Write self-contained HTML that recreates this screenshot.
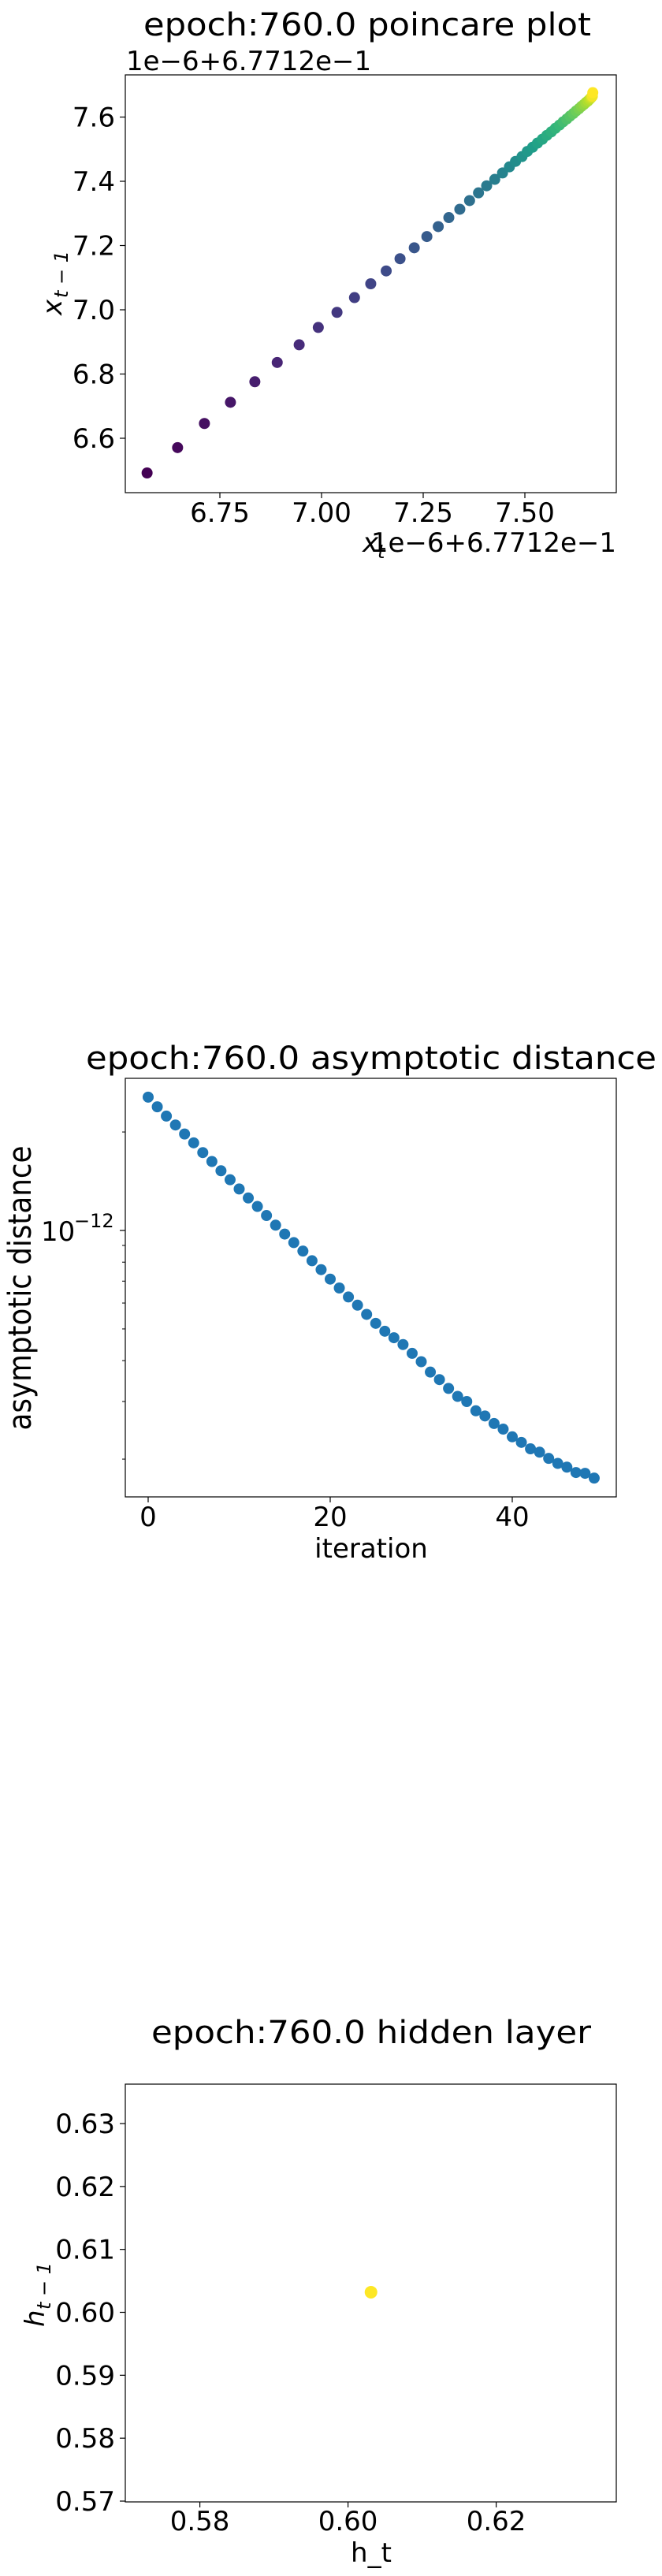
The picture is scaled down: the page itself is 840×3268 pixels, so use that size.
<!DOCTYPE html>
<html><head><meta charset="utf-8"><style>
html,body{margin:0;padding:0;background:#fff;}
svg{display:block;}
text{font-family:"DejaVu Sans","Liberation Sans",sans-serif;fill:#000;}
</style></head><body>
<svg id="fig" width="840" height="3268" viewBox="0 0 840 3268" xmlns="http://www.w3.org/2000/svg"></svg>
<script>
// ---- Chart 1: poincare plot data (units of 1e-6, offset 6.7712e-1) ----
const poincareX = [6.571,6.646,6.712,6.776,6.836,6.891,6.945,6.992,7.038,7.081,7.121,7.159,7.193,7.228,7.259,7.287,7.313,7.340,7.364,7.386,7.406,7.426,7.445,7.462,7.477,7.493,7.506,7.519,7.531,7.543,7.554,7.565,7.575,7.585,7.594,7.603,7.611,7.619,7.626,7.633,7.639,7.645,7.650,7.655,7.659,7.662,7.664,7.665,7.666,7.667];
const poincareY = [6.492,6.571,6.646,6.712,6.776,6.836,6.891,6.945,6.992,7.038,7.081,7.121,7.159,7.193,7.228,7.259,7.287,7.313,7.340,7.364,7.386,7.406,7.426,7.445,7.462,7.477,7.493,7.506,7.519,7.531,7.543,7.554,7.565,7.575,7.585,7.594,7.603,7.611,7.619,7.626,7.633,7.639,7.645,7.650,7.655,7.659,7.662,7.664,7.665,7.676];
const poincareXTicks = [6.75,7.00,7.25,7.50];
const poincareXTickLabels = ["6.75","7.00","7.25","7.50"];
const poincareYTicks = [6.6,6.8,7.0,7.2,7.4,7.6];
const poincareYTickLabels = ["6.6","6.8","7.0","7.2","7.4","7.6"];
// ---- Chart 2: asymptotic distance (units of 1e-12) ----
const asymIter = Array.from({length:50},(_, i)=>i);
const asymDist = [2.556,2.388,2.237,2.101,1.972,1.853,1.730,1.625,1.522,1.429,1.339,1.257,1.184,1.111,1.038,0.975,0.918,0.865,0.808,0.759,0.710,0.667,0.626,0.591,0.554,0.520,0.492,0.470,0.448,0.421,0.397,0.369,0.350,0.329,0.311,0.300,0.281,0.271,0.257,0.247,0.234,0.225,0.215,0.210,0.201,0.194,0.189,0.182,0.181,0.175];
const asymXTicks = [0,20,40];
const asymMinorTicks = [0.2,0.3,0.4,0.5,0.6,0.7,0.8,0.9,2];
// ---- Chart 3: hidden layer ----
const hiddenX = [0.6031];
const hiddenY = [0.6032];
const hiddenXTicks = [0.58,0.60,0.62];
const hiddenYTicks = [0.57,0.58,0.59,0.60,0.61,0.62,0.63];

const NS="http://www.w3.org/2000/svg";
const svg=document.getElementById('fig');
function mk(tag,attrs,parent){const e=document.createElementNS(NS,tag);for(const k in attrs)e.setAttribute(k,attrs[k]);(parent||svg).appendChild(e);return e;}
function txt(s,attrs,parent){const e=mk('text',attrs,parent);e.textContent=s;return e;}
function lin(d0,d1,p0,p1){return v=>p0+(v-d0)/(d1-d0)*(p1-p0);}
const vir=[[68,1,84],[72,40,120],[62,74,137],[49,104,142],[38,130,142],[31,158,137],[53,183,121],[109,205,89],[180,222,44],[253,231,37]];
function viridis(t){const s=t*(vir.length-1);const i=Math.min(Math.floor(s),vir.length-2);const f=s-i;const a=vir[i],b=vir[i+1];return `rgb(${a.map((v,k)=>Math.round(v+(b[k]-v)*f)).join(',')})`;}
const L=159,R=782;

// ===== Chart 1 =====
{
const g=mk('g',{});


const T=95,B=625;
const sx=lin(6.75,7.00,279,408);
const sy=lin(6.6,6.8,556,474.5);
const t=txt('epoch:760.0 poincare plot',{x:466,y:45,'font-size':40,'text-anchor':'middle',textLength:568,lengthAdjust:'spacingAndGlyphs'},g);


const off=txt('1e\u22126+6.7712e\u22121',{x:160,y:89,'font-size':34},g);


poincareXTicks.forEach((v,i)=>{const x=sx(v);mk('line',{x1:x,x2:x,y1:B,y2:B+7,stroke:'#000','stroke-width':1.2},g);
 const l=txt(poincareXTickLabels[i],{x:x,y:662,'font-size':34,'text-anchor':'middle'},g);
 
 });
poincareYTicks.forEach((v,i)=>{const y=sy(v);mk('line',{x1:L-7,x2:L,y1:y,y2:y,stroke:'#000','stroke-width':1.2},g);
 const l=txt(poincareYTickLabels[i],{x:146,y:y+12,'font-size':34,'text-anchor':'end'},g);
 
 });
const n=poincareX.length;
poincareX.forEach((v,i)=>{const c=mk('circle',{cx:sx(v),cy:sy(poincareY[i]),r:7,fill:viridis(i/(n-1))},g);
 
 });
const fr=mk('rect',{x:L,y:T,width:R-L,height:B-T,fill:'none',stroke:'#000','stroke-width':1.2},g);


const xl=txt('x',{x:460,y:700,'font-size':34,'font-style':'italic'},g);


txt('t',{x:479,y:708,'font-size':24,'font-style':'italic'},g);
const off2=txt('1e\u22126+6.7712e\u22121',{x:782,y:700,'font-size':34,'text-anchor':'end'},g);


const yl=mk('g',{transform:'translate(78,360) rotate(-90)'},g);


txt('x',{x:-40,y:0,'font-size':34,'font-style':'italic'},yl);
txt('t \u2212 1',{x:-18,y:8,'font-size':24,'font-style':'italic'},yl);
}

// ===== Chart 2 =====
{
const g=mk('g',{});


const T=1368,B=1899;
const sx=lin(0,20,188,419);
const sy=v=>1561-Math.log10(v)*415;
const t=txt('epoch:760.0 asymptotic distance',{x:471,y:1356,'font-size':40,'text-anchor':'middle',textLength:724,lengthAdjust:'spacingAndGlyphs'},g);


asymXTicks.forEach(v=>{const x=sx(v);mk('line',{x1:x,x2:x,y1:B,y2:B+7,stroke:'#000','stroke-width':1.2},g);
 const l=txt(String(v),{x:x,y:1936,'font-size':34,'text-anchor':'middle'},g);
 
 });
mk('line',{x1:L-7,x2:L,y1:sy(1),y2:sy(1),stroke:'#000','stroke-width':1.2},g);
asymMinorTicks.forEach(v=>{const y=sy(v);mk('line',{x1:L-4,x2:L,y1:y,y2:y,stroke:'#000','stroke-width':1},g);});
const yt=txt('10',{x:52,y:sy(1)+13,'font-size':34},g);


txt('\u221212',{x:94,y:sy(1)-4,'font-size':24},g);
asymDist.forEach((v,i)=>{const c=mk('circle',{cx:sx(asymIter[i]),cy:sy(v),r:7,fill:'#1f77b4'},g);
 
 });
const fr=mk('rect',{x:L,y:T,width:R-L,height:B-T,fill:'none',stroke:'#000','stroke-width':1.2},g);


const xl=txt('iteration',{x:471,y:1976,'font-size':34,'text-anchor':'middle'},g);


const yl=txt('asymptotic distance',{x:0,y:0,'font-size':40,'text-anchor':'middle',transform:'translate(39,1634) rotate(-90)',textLength:361,lengthAdjust:'spacingAndGlyphs'},g);


}

// ===== Chart 3 =====
{
const g=mk('g',{});


const T=2644,B=3174;
const sx=lin(0.58,0.60,253.6,441.6);
const sy=lin(0.57,0.63,3173,2694);
const t=txt('epoch:760.0 hidden layer',{x:471,y:2592,'font-size':40,'text-anchor':'middle',textLength:558,lengthAdjust:'spacingAndGlyphs'},g);


hiddenXTicks.forEach(v=>{const x=sx(v);mk('line',{x1:x,x2:x,y1:B,y2:B+7,stroke:'#000','stroke-width':1.2},g);
 const l=txt(v.toFixed(2),{x:x,y:3210,'font-size':34,'text-anchor':'middle'},g);
 
 });
hiddenYTicks.forEach(v=>{const y=sy(v);mk('line',{x1:L-7,x2:L,y1:y,y2:y,stroke:'#000','stroke-width':1.2},g);
 const l=txt(v.toFixed(2),{x:146,y:y+12,'font-size':34,'text-anchor':'end'},g);
 
 });
hiddenX.forEach((v,i)=>{const c=mk('circle',{cx:sx(v),cy:sy(hiddenY[i]),r:8,fill:'#fde725'},g);
 
 });
const fr=mk('rect',{x:L,y:T,width:R-L,height:B-T,fill:'none',stroke:'#000','stroke-width':1.2},g);


const xl=txt('h_t',{x:471,y:3250,'font-size':34,'text-anchor':'middle'},g);


const yl=mk('g',{transform:'translate(56,2910) rotate(-90)'},g);


txt('h',{x:-42,y:0,'font-size':34,'font-style':'italic'},yl);
txt('t \u2212 1',{x:-20,y:8,'font-size':24,'font-style':'italic'},yl);
}
</script>
</body></html>
